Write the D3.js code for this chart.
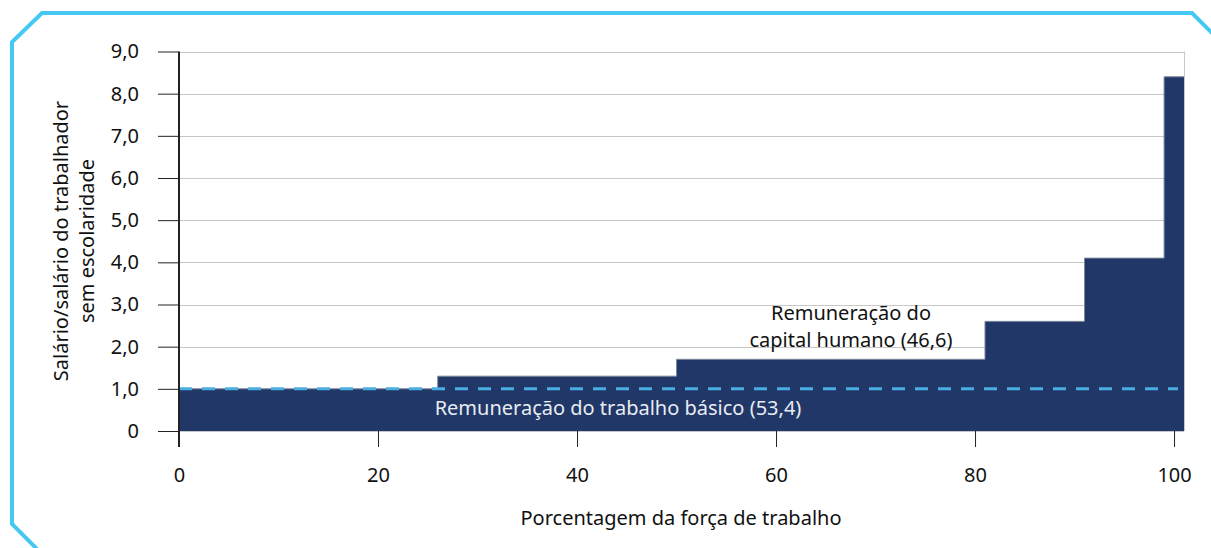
<!DOCTYPE html>
<html>
<head>
<meta charset="utf-8">
<script src="https://cdn.jsdelivr.net/npm/d3@7"></script>
<style>
  body { margin: 0; background: #fff; }
  svg text { font-family: "Noto Sans", "Open Sans", sans-serif; fill: #111; }
</style>
</head>
<body>
<script>
// step boundaries (percent of labour force) and wage ratio for each step
var breaks = [0, 26, 50, 81, 91, 99, 101];
var ratios = [1.0, 1.3, 1.7, 2.6, 4.1, 8.4];
var baseWage = 1.0;
var yTicks = [0, 1, 2, 3, 4, 5, 6, 7, 8, 9];
var yTickLabels = ["0", "1,0", "2,0", "3,0", "4,0", "5,0", "6,0", "7,0", "8,0", "9,0"];
var xTicks = [0, 20, 40, 60, 80, 100];
var humanCapitalLabel = ["Remuneração do", "capital humano (46,6)"];
var basicLabel = "Remuneração do trabalho básico (53,4)";
var xTitle = "Porcentagem da força de trabalho";
var yTitle = ["Salário/salário do trabalhador", "sem escolaridade"];

// points for the step outline: each step starts at its break, last point closes it
var pts = [];
for (var i = 0; i < ratios.length; i++) {
  pts.push({x: breaks[i], y: ratios[i]});
}
pts.push({x: breaks[breaks.length - 1], y: ratios[ratios.length - 1]});

var W = 1211, H = 548;
var fs = "20px";
var svg = d3.select("body").append("svg")
  .attr("width", W).attr("height", H);

// chamfered light blue frame
var frame = [[12, 200], [12, 42], [42, 13], [1192, 13], [1213, 34]];
var frame2 = [[12, 200], [12, 524], [38, 550]];
svg.append("path").attr("d", d3.line()(frame))
  .attr("fill", "none").attr("stroke", "#45c8f2").attr("stroke-width", 4);
svg.append("path").attr("d", d3.line()(frame2))
  .attr("fill", "none").attr("stroke", "#45c8f2").attr("stroke-width", 4);

var x = d3.scaleLinear().domain([0, 101]).range([179, 1184]);
var y = d3.scaleLinear().domain([0, 9]).range([431, 51.5]);

// gridlines
svg.append("g").selectAll("line").data(yTicks).join("line")
  .attr("x1", x(0)).attr("x2", x(101))
  .attr("y1", function(d) { return Math.round(y(d)) + 0.5; })
  .attr("y2", function(d) { return Math.round(y(d)) + 0.5; })
  .attr("stroke", "#c8c8c8").attr("stroke-width", 1);
svg.append("line")
  .attr("x1", x(101) + 0.5).attr("x2", x(101) + 0.5)
  .attr("y1", y(9)).attr("y2", y(0))
  .attr("stroke", "#c8c8c8");

// step area
var area = d3.area()
  .x(function(d) { return x(d.x); })
  .y0(y(0))
  .y1(function(d) { return y(d.y); })
  .curve(d3.curveStepAfter);
svg.append("path").datum(pts)
  .attr("d", area)
  .attr("fill", "#203768");
var line = d3.line()
  .x(function(d) { return x(d.x); })
  .y(function(d) { return y(d.y); })
  .curve(d3.curveStepAfter);
svg.append("path").datum(pts)
  .attr("d", line)
  .attr("fill", "none").attr("stroke", "#7d879c").attr("stroke-width", 1);

// dashed basic wage line
svg.append("line")
  .attr("x1", x(0)).attr("x2", x(100.4))
  .attr("y1", y(baseWage)).attr("y2", y(baseWage))
  .attr("stroke", "#4aaee0").attr("stroke-width", 3)
  .attr("stroke-dasharray", "13,10");

// y axis
var yAxis = svg.append("g")
  .attr("transform", "translate(" + x(0) + ",0)")
  .call(d3.axisLeft(y).tickValues(yTicks)
    .tickFormat(function(d, i) { return yTickLabels[i]; })
    .tickSize(21).tickSizeOuter(0).tickPadding(19));
yAxis.select(".domain").remove();
yAxis.selectAll("line").attr("stroke", "#222");
yAxis.selectAll("text").style("font-size", fs)
  .style("font-family", "Noto Sans").attr("fill", "#111");
svg.append("line")
  .attr("x1", x(0)).attr("x2", x(0))
  .attr("y1", y(9)).attr("y2", 447)
  .attr("stroke", "#222").attr("stroke-width", 2);

// x axis
var xAxis = svg.append("g")
  .attr("transform", "translate(0," + y(0) + ")")
  .call(d3.axisBottom(x).tickValues(xTicks)
    .tickSize(16).tickSizeOuter(0).tickPadding(21));
xAxis.select(".domain").remove();
xAxis.selectAll("line").attr("stroke", "#222");
xAxis.selectAll("text").style("font-size", fs)
  .style("font-family", "Noto Sans").attr("fill", "#111");

// titles
svg.append("text")
  .attr("x", 681).attr("y", 525)
  .attr("text-anchor", "middle").style("font-size", fs)
  .text(xTitle);
svg.append("text")
  .attr("transform", "translate(68,241) rotate(-90)")
  .attr("text-anchor", "middle").style("font-size", fs)
  .selectAll("tspan").data(yTitle).join("tspan")
  .attr("x", 0).attr("dy", function(d, i) { return i ? 26 : 0; })
  .text(function(d) { return d; });

// annotations
svg.append("text")
  .attr("text-anchor", "middle").style("font-size", fs)
  .selectAll("tspan").data(humanCapitalLabel).join("tspan")
  .attr("x", 851).attr("y", function(d, i) { return 320 + i * 27; })
  .text(function(d) { return d; });
svg.append("text")
  .attr("x", 618).attr("y", 415)
  .attr("text-anchor", "middle").style("font-size", fs)
  .style("fill", "#e8ecf2")
  .text(basicLabel);
</script>
</body>
</html>
